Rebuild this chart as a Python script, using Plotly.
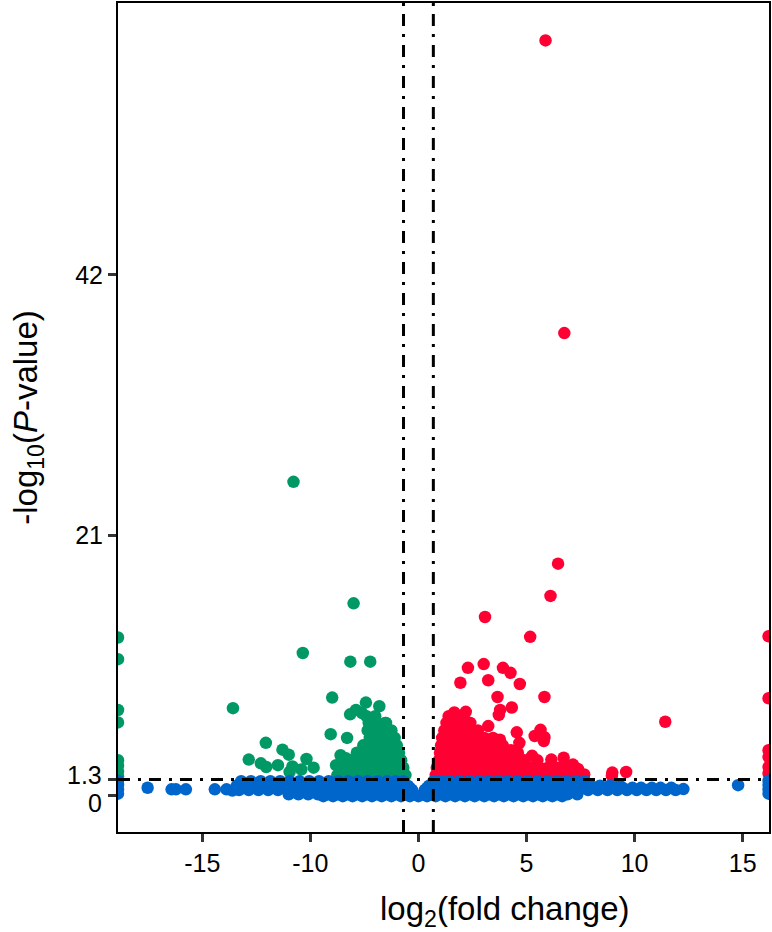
import plotly.graph_objects as go

# Volcano plot: log2(fold change) vs -log10(P-value)
# note: the source figure labels its left ticks -15/-10 at positions -10/-5,
# the labels are kept as they appear in the picture

x_tickvals = [-10, -5, 0, 5, 10, 15]
x_ticktext = ["-15", "-10", "0", "5", "10", "15"]
y_tickvals = [0, 1.3, 21, 42]
y_ticktext = ["", "", "21", "42"]   # 0 and 1.3 are drawn apart as annotations
y_low_labels = ["0", "1.3"]
y_low_vals = [0, 1.3]
y_low_shift = [-7, 4]

fc_cut = 0.69
p_cut = 1.3

# ---- up-regulated (red) ----
red_x = [5.88, 6.75, 6.46, 6.11, 3.08, 5.17, 2.29, 3.02, 3.91, 4.26, 1.94, 3.23, 4.69,
         3.66, 5.83, 4.32, 3.78, 3.72, 11.42, 1.66, 2.19, 3.23, 4.55, 5.65, 5.38, 5.83,
         5.80, 3.77, 4.67, 4.28, 5.26, 6.15, 6.72, 7.15, 7.38, 6.34, 5.80, 7.67, 8.97,
         8.95, 9.61,
         16.2, 16.2, 16.2, 16.2, 16.2, 16.2]
red_y = [60.9, 37.3, 18.7, 16.1, 14.4, 12.8, 10.3, 10.6, 10.3, 9.9, 9.1, 9.3, 9.0,
         7.95, 7.95, 7.1, 6.9, 6.5, 5.95, 6.7, 6.75, 5.6, 5.1, 5.3, 4.8, 4.7,
         4.4, 4.5, 4.25, 3.65, 3.2, 2.9, 3.05, 2.5, 2.15, 2.15, 2.15, 1.7, 1.85,
         1.6, 1.9,
         12.85, 7.85, 3.65, 3.1, 2.3, 1.8]

# dense cloud, one list of x per row
red_rows_y = [1.65, 2.25, 2.85, 3.45, 4.05, 4.65, 5.25, 5.85, 6.4]
red_rows_x = [
    [0.8, 1.1, 1.5, 1.9, 2.3, 2.7, 3.1, 3.5, 3.9, 4.3, 4.7, 5.1, 5.5, 5.9, 6.3, 6.7, 7.1, 7.5],
    [0.85, 1.2, 1.6, 2.0, 2.4, 2.8, 3.2, 3.6, 4.0, 4.4, 4.8, 5.2, 5.6, 6.0, 6.5, 6.9],
    [0.95, 1.3, 1.7, 2.1, 2.5, 2.9, 3.3, 3.7, 4.1, 4.5, 4.9, 5.5],
    [1.0, 1.35, 1.75, 2.15, 2.55, 2.95, 3.35, 3.75, 4.15, 4.6],
    [1.05, 1.4, 1.8, 2.2, 2.6, 3.0, 3.4, 3.9],
    [1.1, 1.45, 1.85, 2.25, 2.65, 3.05, 3.45],
    [1.2, 1.55, 1.95, 2.35, 2.75],
    [1.3, 1.65, 2.05, 2.4],
    [1.4, 1.75, 2.05],
]

# ---- down-regulated (green) ----
green_x = [-5.78, -3.0, -5.35, -3.15, -2.23, -8.58, -3.99, -2.43, -1.81, -3.16, -2.89,
           -2.61, -4.06, -3.3, -7.06, -7.85, -7.29, -6.29, -6.0, -6.5, -5.18, -4.85,
           -5.83, -5.96, -5.42, -7.04, -3.6, -3.81, -3.35, -1.54, -3.2, -3.66,
           -13.9, -13.9, -13.9, -13.9, -13.9, -13.9, -13.9, -13.9]
green_y = [25.3, 15.5, 11.5, 10.8, 10.8, 7.05, 7.9, 7.5, 7.2, 6.55, 6.9,
           6.65, 4.95, 4.65, 4.25, 2.9, 2.6, 3.7, 3.3, 2.45, 2.95, 2.25,
           2.35, 1.9, 2.1, 2.3, 3.25, 2.45, 3.0, 5.85, 2.85, 2.3,
           12.75, 11.0, 6.9, 5.9, 2.85, 2.4, 1.95, 1.55]

green_rows_y = [1.65, 2.25, 2.85, 3.45, 4.05, 4.65, 5.25, 5.85, 6.4]
green_rows_x = [
    [-0.6, -0.95, -1.35, -1.75, -2.15, -2.55, -2.95, -3.35, -3.75],
    [-0.7, -1.05, -1.45, -1.85, -2.25, -2.65, -3.05, -3.45],
    [-0.8, -1.15, -1.55, -1.95, -2.35, -2.75, -3.15],
    [-0.9, -1.25, -1.65, -2.05, -2.45, -2.85],
    [-1.0, -1.35, -1.75, -2.15, -2.55],
    [-1.1, -1.45, -1.85, -2.25],
    [-1.25, -1.6, -2.0, -2.35],
    [-1.5, -1.9, -2.3],
    [-2.0, -2.4],
]

# ---- not significant (blue) ----
blue_x = [-12.53, -11.42, -11.22, -10.76, -9.42, -8.88, -8.61, 14.79, 12.26,
          -13.9, -13.9, -13.9, -13.9, 16.2, 16.2, 16.2, 16.2]
blue_y = [0.63, 0.5, 0.5, 0.5, 0.5, 0.5, 0.4, 0.84, 0.52,
          1.2, 0.85, 0.5, 0.15, 1.2, 0.85, 0.5, 0.15]

blue_rows_y = [1.15, 0.8, 0.45, 0.1, -0.05, 0.62]
blue_rows_x = [
    [-8.2, -7.75, -7.3, -6.85, -6.4, -5.95, -5.5, -5.05, -4.6, -4.15, -3.7, -3.25, -2.8,
     -2.35, -1.9, -1.45, -1.05, -0.7,
     0.7, 1.05, 1.45, 1.9, 2.35, 2.8, 3.25, 3.7, 4.15, 4.6, 5.05, 5.5, 5.95, 6.4, 6.85,
     7.3, 7.7],
    [-8.4, -7.95, -7.5, -7.05, -6.6, -6.15, -5.7, -5.25, -4.8, -4.35, -3.9, -3.45, -3.0,
     -2.55, -2.1, -1.65, -1.2, -0.85, -0.5,
     0.5, 0.85, 1.2, 1.65, 2.1, 2.55, 3.0, 3.45, 3.9, 4.35, 4.8, 5.25, 5.7, 6.15, 6.6,
     7.05, 7.5, 7.95, 8.4, 8.85, 9.3],
    [-8.3, -7.85, -7.4, -6.95, -6.5, -6.05, -5.6, -5.15, -4.7, -4.25, -3.8, -3.35, -2.9,
     -2.45, -2.0, -1.55, -1.1, -0.7, -0.3,
     0.3, 0.7, 1.1, 1.55, 2.0, 2.45, 2.9, 3.35, 3.8, 4.25, 4.7, 5.15, 5.6, 6.05, 6.5,
     6.95, 7.4, 7.85, 8.3, 8.75, 9.2, 9.65, 10.1, 10.55, 11.0, 11.45, 11.9],
    [-6.0, -5.55, -5.1, -4.65, -4.2, -3.75, -3.3, -2.85, -2.4, -1.95, -1.5, -1.05, -0.6,
     -0.2, 0.2, 0.6, 1.05, 1.5, 1.95, 2.4, 2.85, 3.3, 3.75, 4.2, 4.65, 5.1, 5.55, 6.0,
     6.45, 6.9, 7.35],
    [-4.4, -3.95, -3.5, -3.05, -2.6, -2.15, -1.7, -1.25, -0.8, -0.4, 0.0, 0.4, 0.8,
     1.25, 1.7, 2.15, 2.6, 3.05, 3.5, 3.95, 4.4, 4.85, 5.3, 5.75, 6.2, 6.65],
    [-8.0, -7.5, -7.1, -6.6, -6.2, -5.75, -5.3, -4.85, -4.4, -3.95, -3.5, -3.05, -2.6,
     -2.15, -1.7, -1.25, -0.85, -0.4,
     0.4, 0.85, 1.25, 1.7, 2.15, 2.6, 3.05, 3.5, 3.95, 4.4, 4.85, 5.3, 5.75, 6.2, 6.65,
     7.1, 7.55, 8.0, 8.5, 9.0, 9.45, 9.9, 10.3, 10.8, 11.2, 11.7],
]


def with_rows(xs, ys, rows_y, rows_x):
    xs, ys = list(xs), list(ys)
    for yv, row in zip(rows_y, rows_x):
        xs += row
        ys += [yv] * len(row)
    return xs, ys


rx, ry = with_rows(red_x, red_y, red_rows_y, red_rows_x)
gx, gy = with_rows(green_x, green_y, green_rows_y, green_rows_x)
bx, by = with_rows(blue_x, blue_y, blue_rows_y, blue_rows_x)

dot = 12.5
fig = go.Figure()
fig.add_trace(go.Scatter(x=rx, y=ry, mode="markers", name="up",
                         marker=dict(color="#FF0033", size=dot, line_width=0)))
fig.add_trace(go.Scatter(x=gx, y=gy, mode="markers", name="down",
                         marker=dict(color="#009966", size=dot, line_width=0)))
fig.add_trace(go.Scatter(x=bx, y=by, mode="markers", name="ns",
                         marker=dict(color="#0066CC", size=dot, line_width=0)))

dashdot = "12px,8px,3px,8px"
fig.add_hline(y=p_cut, line=dict(color="black", width=3, dash=dashdot))
fig.add_vline(x=-fc_cut, line=dict(color="black", width=3, dash=dashdot))
fig.add_vline(x=fc_cut, line=dict(color="black", width=3, dash=dashdot))

axis_style = dict(showgrid=False, zeroline=False, showline=True, linecolor="black",
                  linewidth=2, mirror=True, ticks="outside", ticklen=8, tickwidth=3,
                  tickcolor="#333333")

fig.update_xaxes(range=[-13.9, 16.22], tickvals=x_tickvals, ticktext=x_ticktext,
                 tickfont=dict(size=25, color="black"), **axis_style)
fig.update_yaxes(range=[-2.94, 63.92], tickvals=y_tickvals, ticktext=y_ticktext,
                 tickfont=dict(size=25, color="black"),
                 title=dict(text="-log<sub>10</sub>(<i>P</i>-value)", font=dict(size=33),
                            standoff=28),
                 **axis_style)

for lab, val, sh in zip(y_low_labels, y_low_vals, y_low_shift):
    fig.add_annotation(text=lab, xref="paper", yref="y", x=0, y=val, xanchor="right",
                       yanchor="middle", xshift=-14, yshift=sh, showarrow=False,
                       font=dict(size=25, color="black"))

fig.add_annotation(text="log<sub>2</sub>(fold change)", xref="paper", yref="paper",
                   x=0.594, y=-0.095, xanchor="center", yanchor="middle",
                   showarrow=False, font=dict(size=33, color="black"))

fig.update_layout(width=772, height=932, showlegend=False,
                  margin=dict(l=118, r=1, t=1, b=100),
                  plot_bgcolor="white", paper_bgcolor="white",
                  font=dict(family="Liberation Sans, Arial, sans-serif", color="black"))

# the page body has a default 8px margin; drop it so the figure sits at 0,0
fig.write_html("out.html", config={"displayModeBar": False},
               post_script="document.body.style.margin='0';")
